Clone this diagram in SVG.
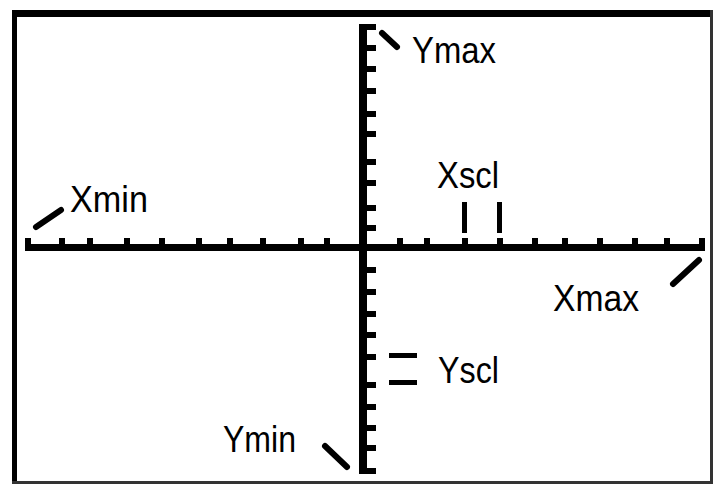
<svg xmlns="http://www.w3.org/2000/svg" width="713" height="484" viewBox="0 0 713 484">
<style>
.ink{fill:#000}
.mark{stroke:#000;stroke-width:6;stroke-linecap:round;fill:none}
.lbl{font-family:"Liberation Sans",Arial,sans-serif;font-size:37px;fill:#000}
</style>
<rect x="0" y="0" width="713" height="484" fill="#fff"/>
<g id="frame">
<rect class="ink" x="12" y="10" width="701" height="7"/>
<rect class="ink" x="12" y="10" width="5" height="474"/>
<rect x="710" y="10" width="3" height="474" fill="#333"/>
<rect x="12" y="481" width="701" height="3" fill="#333"/>
</g>
<g id="x-axis">
<rect class="ink" x="25" y="244" width="680" height="7"/>
<rect class="ink" x="25" y="238" width="6" height="7"/>
<rect class="ink" x="699" y="238" width="6" height="7"/>
<g class="ink">
<rect x="59" y="238" width="6" height="7"/>
<rect x="87" y="238" width="6" height="7"/>
<rect x="124" y="238" width="6" height="7"/>
<rect x="159" y="238" width="6" height="7"/>
<rect x="196" y="238" width="6" height="7"/>
<rect x="227" y="238" width="6" height="7"/>
<rect x="260" y="238" width="6" height="7"/>
<rect x="298" y="238" width="6" height="7"/>
<rect x="324" y="238" width="6" height="7"/>
<rect x="397" y="238" width="6" height="7"/>
<rect x="424" y="238" width="6" height="7"/>
<rect x="462" y="238" width="6" height="7"/>
<rect x="497" y="238" width="6" height="7"/>
<rect x="532" y="238" width="6" height="7"/>
<rect x="562" y="238" width="6" height="7"/>
<rect x="597" y="238" width="6" height="7"/>
<rect x="632" y="238" width="6" height="7"/>
<rect x="664" y="238" width="6" height="7"/>
</g>
</g>
<g id="y-axis">
<rect class="ink" x="359" y="24" width="8" height="450"/>
<rect class="ink" x="366" y="24" width="10" height="6"/>
<rect class="ink" x="366" y="468" width="10" height="6"/>
<g class="ink">
<rect x="366" y="45" width="10" height="6"/>
<rect x="366" y="66" width="10" height="6"/>
<rect x="366" y="88" width="10" height="6"/>
<rect x="366" y="111" width="10" height="6"/>
<rect x="366" y="131" width="10" height="6"/>
<rect x="366" y="159" width="10" height="6"/>
<rect x="366" y="180" width="10" height="6"/>
<rect x="366" y="205" width="10" height="6"/>
<rect x="366" y="225" width="10" height="6"/>
<rect x="366" y="267" width="10" height="6"/>
<rect x="366" y="289" width="10" height="6"/>
<rect x="366" y="311" width="10" height="6"/>
<rect x="366" y="332" width="10" height="6"/>
<rect x="366" y="354" width="10" height="6"/>
<rect x="366" y="382" width="10" height="6"/>
<rect x="366" y="404" width="10" height="6"/>
<rect x="366" y="425" width="10" height="6"/>
<rect x="366" y="445" width="10" height="6"/>
</g>
</g>
<g id="xscl">
<rect class="ink" x="462" y="202" width="5" height="31"/>
<rect class="ink" x="497" y="202" width="5" height="31"/>
<text class="lbl" x="437" y="188" textLength="62" lengthAdjust="spacingAndGlyphs">Xscl</text>
</g>
<g id="yscl">
<rect class="ink" x="389" y="353" width="28" height="5"/>
<rect class="ink" x="389" y="380" width="28" height="5"/>
<text class="lbl" x="438" y="383" textLength="61" lengthAdjust="spacingAndGlyphs">Yscl</text>
</g>
<g id="xmin">
<line class="mark" x1="36" y1="227" x2="61" y2="210"/>
<text class="lbl" x="70" y="212" textLength="78" lengthAdjust="spacingAndGlyphs">Xmin</text>
</g>
<g id="xmax">
<line class="mark" x1="673" y1="284" x2="699" y2="260"/>
<text class="lbl" x="553" y="311" textLength="86" lengthAdjust="spacingAndGlyphs">Xmax</text>
</g>
<g id="ymax">
<line class="mark" x1="382" y1="33" x2="397" y2="47"/>
<text class="lbl" x="412" y="63" textLength="84" lengthAdjust="spacingAndGlyphs">Ymax</text>
</g>
<g id="ymin">
<line class="mark" x1="325" y1="446" x2="347" y2="467"/>
<text class="lbl" x="223" y="452" textLength="73" lengthAdjust="spacingAndGlyphs">Ymin</text>
</g>
</svg>
